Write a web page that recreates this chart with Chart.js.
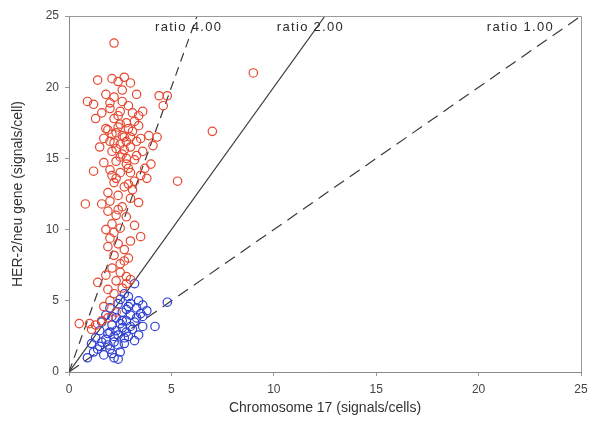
<!DOCTYPE html>
<html>
<head>
<meta charset="utf-8">
<script src="https://cdn.jsdelivr.net/npm/chart.js@4"></script>
<style>
  html, body { margin: 0; padding: 0; background: #fff; }
  #wrap { width: 602px; height: 436px; position: relative; }
</style>
</head>
<body>
<div id="wrap"><canvas id="chart"></canvas></div>
<script>
// amplified cases (red) - [chromosome 17, HER-2/neu]
const redX = [2.2, 9.0, 7.0, 5.3, 3.5, 0.5,
  1.4, 2.1, 2.4, 2.7, 3.0, 0.9, 1.8, 2.2, 2.6, 3.3, 1.2, 4.4, 4.8, 4.6,
  1.6, 2.0, 2.5, 2.9, 3.4, 1.3, 2.8, 2.2,
  1.9, 2.3, 2.7, 3.1, 3.5, 3.9, 4.3, 4.1, 2.0, 2.5, 3.0, 3.3, 2.1, 2.6, 3.6, 1.7, 1.5,
  2.3, 2.8, 3.2, 3.7, 4.0, 2.0, 2.5, 3.0, 3.5, 1.2, 3.8,
  2.2, 2.7, 1.9, 2.4, 3.1, 2.0, 3.0, 1.6, 3.4, 0.8,
  1.9, 2.3, 2.8, 2.1, 2.5, 3.2, 1.8,
  2.0, 2.4, 2.7, 2.2, 2.9,
  2.1, 2.5, 1.8, 2.3, 2.8, 3.0, 1.4, 2.6, 1.9, 2.2,
  2.0, 1.7, 2.3, 1.0, 1.3, 1.6, 1.1, 1.9,
  // denser core
  2.4, 2.9, 3.2, 2.6, 2.1, 3.4, 2.8, 2.3, 3.0, 2.5, 2.7, 3.3, 2.2, 1.8, 2.9,
  2.4, 3.1, 2.6, 2.0, 3.6, 2.8, 2.3, 2.5, 3.2, 1.7, 2.1, 2.9, 2.6, 2.4, 3.0,
  2.2, 2.7, 2.5, 1.9, 2.8];
const redY = [23.1, 21.0, 16.9, 13.4, 9.5, 3.4,
  20.5, 20.6, 20.4, 20.7, 20.3, 19.0, 19.5, 19.3, 19.8, 19.5, 18.8, 19.4, 19.4, 18.7,
  18.2, 18.5, 18.3, 18.7, 18.0, 17.8, 17.5, 17.8,
  17.0, 16.8, 16.5, 16.9, 16.4, 16.6, 16.5, 15.9, 16.2, 16.0, 15.8, 16.2, 15.5, 15.3, 15.5, 16.4, 15.8,
  14.8, 14.6, 14.9, 14.3, 14.6, 14.2, 14.0, 14.0, 13.8, 14.1, 13.6,
  13.3, 13.0, 12.6, 12.4, 12.8, 12.0, 12.2, 11.8, 11.9, 11.8,
  11.3, 11.0, 10.9, 10.4, 10.1, 10.3, 10.0,
  9.4, 9.0, 8.6, 8.2, 8.0,
  7.3, 7.0, 6.8, 6.4, 6.2, 6.5, 6.3, 5.9, 5.8, 5.5,
  5.0, 4.6, 4.2, 3.4, 3.3, 3.6, 3.0, 3.8,
  17.2, 17.1, 17.6, 16.6, 16.7, 17.3, 16.2, 15.7, 16.5, 17.4, 15.6, 15.2, 16.1, 17.1, 14.3,
  18.0, 18.2, 19.0, 18.9, 18.3, 15.0, 13.6, 15.1, 13.4, 14.7, 13.8, 13.2, 11.6, 11.4, 9.2,
  9.8, 7.8, 7.6, 8.8, 6.7];

// non-amplified cases (blue)
const blueX = [3.2, 2.7, 2.9, 3.4, 4.8, 2.4, 2.9, 3.3, 3.6, 2.0, 2.6, 3.0, 3.5, 1.8, 2.3,
  2.8, 3.2, 4.2, 1.6, 2.1, 2.6, 3.1, 3.6, 1.5, 2.0, 2.4, 2.9, 3.4, 1.3, 1.8, 2.2, 2.7,
  3.2, 1.1, 1.5, 2.0, 2.5, 1.2, 1.7, 2.2, 2.4, 0.9, 1.9, 2.3, 2.6, 2.1, 3.0, 2.8, 1.6,
  2.4, 3.6, 3.8, 2.5, 3.0, 2.2, 2.7, 1.9, 2.5, 3.3, 1.4, 2.1, 2.8];
const blueY = [6.2, 5.5, 5.3, 5.0, 4.9, 4.8, 4.6, 4.5, 4.7, 4.5, 4.2, 4.0, 4.1, 4.0, 3.8,
  3.6, 3.5, 3.2, 3.5, 3.3, 3.1, 3.0, 3.2, 2.9, 2.8, 2.6, 2.5, 2.6, 2.4, 2.3, 2.1, 2.0,
  2.2, 2.0, 1.8, 1.6, 1.4, 1.4, 1.2, 1.0, 0.9, 1.0, 1.9, 2.9, 3.6, 3.9, 3.2, 2.8, 2.1,
  1.9, 3.9, 4.3, 5.1, 4.8, 2.5, 2.4, 2.7, 3.4, 3.8, 1.6, 1.3, 4.4];

// reference ratio lines and their labels
const ratios = [4, 2, 1];
const ratioLabels = ['ratio 4.00', 'ratio 2.00', 'ratio 1.00'];
const ratioLabelX = [4.2, 10.15, 20.4];
const ratioDash = [[9, 6], [], [12, 7]];

const axisMax = 25;
const ticks = [0, 5, 10, 15, 20, 25];

const toPoints = (xs, ys) => xs.map((x, i) => ({ x: x, y: ys[i] }));

const ratioDatasets = ratios.map((r, i) => ({
  type: 'line',
  label: ratioLabels[i],
  data: [{ x: 0, y: 0 }, { x: axisMax / r, y: axisMax }],
  borderColor: '#3a3a3a',
  borderWidth: 1.2,
  borderDash: ratioDash[i],
  pointRadius: 0,
  fill: false,
  order: 3
}));

const framePlugin = {
  id: 'frame',
  afterDatasetsDraw(chart) {
    const { ctx, chartArea: a, scales } = chart;
    ctx.save();
    ctx.strokeStyle = '#9a9a9a';
    ctx.lineWidth = 1;
    ctx.beginPath();
    ctx.moveTo(a.left, a.top + 0.5);
    ctx.lineTo(a.right + 0.5, a.top + 0.5);
    ctx.lineTo(a.right + 0.5, a.bottom);
    ctx.stroke();
    ctx.fillStyle = '#2a2a2a';
    ctx.font = '13px "Liberation Sans", Arial, sans-serif';
    ctx.letterSpacing = '1.3px';
    ctx.textBaseline = 'middle';
    ratioLabels.forEach((t, i) => {
      ctx.fillText(t, scales.x.getPixelForValue(ratioLabelX[i]), scales.y.getPixelForValue(24.2));
    });
    ctx.restore();
  }
};

new Chart(document.getElementById('chart'), {
  type: 'scatter',
  data: {
    datasets: [
      {
        label: 'amplified',
        data: toPoints(redX, redY),
        backgroundColor: 'rgba(255,255,255,0)',
        borderColor: '#e5472f',
        borderWidth: 1.2,
        pointRadius: 4.2,
        order: 1
      },
      {
        label: 'non-amplified',
        data: toPoints(blueX, blueY),
        backgroundColor: 'rgba(255,255,255,0)',
        borderColor: '#2d3fd3',
        borderWidth: 1.2,
        pointRadius: 4.2,
        order: 2
      },
      ...ratioDatasets
    ]
  },
  options: {
    responsive: true,
    maintainAspectRatio: false,
    animation: false,
    layout: { padding: { top: 16, right: 21, left: 0, bottom: 0 } },
    plugins: {
      legend: { display: false },
      tooltip: { enabled: false }
    },
    scales: {
      x: {
        type: 'linear',
        min: 0,
        max: axisMax,
        afterBuildTicks: (s) => { s.ticks = ticks.map(v => ({ value: v })); },
        afterFit: (s) => { s.height = 64; },
        ticks: { color: '#444', font: { size: 12, family: '"Liberation Sans", Arial' }, padding: 6 },
        grid: { drawOnChartArea: false, tickLength: 4, color: '#999' },
        border: { color: '#8a8a8a' },
        title: {
          display: true,
          text: 'Chromosome 17 (signals/cells)',
          color: '#333',
          font: { size: 14, family: '"Liberation Sans", Arial' },
          padding: { top: 4, bottom: 19 }
        }
      },
      y: {
        type: 'linear',
        min: 0,
        max: axisMax,
        afterBuildTicks: (s) => { s.ticks = ticks.map(v => ({ value: v })); },
        afterFit: (s) => { s.width = 69; },
        ticks: { color: '#444', font: { size: 12, family: '"Liberation Sans", Arial' }, padding: 6 },
        grid: { drawOnChartArea: false, tickLength: 4, color: '#999' },
        border: { color: '#8a8a8a' },
        title: {
          display: true,
          text: 'HER-2/neu gene (signals/cell)',
          color: '#333',
          font: { size: 14, family: '"Liberation Sans", Arial' },
          padding: { top: 10, bottom: 4 }
        }
      }
    }
  },
  plugins: [framePlugin]
});
</script>
</body>
</html>
